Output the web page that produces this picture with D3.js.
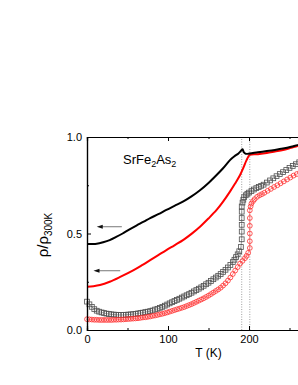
<!DOCTYPE html>
<html>
<head>
<meta charset="utf-8">
<script src="https://cdn.jsdelivr.net/npm/d3@7"></script>
<style>
  body { margin: 0; background: #fff; }
  svg { display: block; font-family: "Liberation Sans", Arial, sans-serif; }
</style>
</head>
<body>
<div id="chart"></div>
<script>
var width = 298, height = 385;

// open squares (black sample)
var sqT = [0,3,6,9,12,15,18,21,24,27,30,33,36,39,42,45,48,51,54,57,60,63,66,69,72,75,78,81,84,87,90,93,96,99,102,105,108,111,114,117,120,123,126,129,132,135,138,141,144,147,150,153,156,159,162,165,168,171,174,177,180,182,184,186,188,190,191,191,191,191,191,191,192,193,194,196,198,200,203,206,209,212,215,218,222,226,230,234,238,242,246,250,254,258,262,266];
var sqV = [0.147,0.133,0.120,0.108,0.100,0.095,0.091,0.088,0.085,0.083,0.081,0.080,0.079,0.078,0.078,0.078,0.079,0.080,0.081,0.082,0.084,0.086,0.088,0.090,0.093,0.095,0.098,0.101,0.106,0.110,0.115,0.120,0.126,0.132,0.138,0.144,0.150,0.156,0.162,0.168,0.174,0.180,0.186,0.193,0.200,0.207,0.214,0.221,0.229,0.237,0.245,0.254,0.263,0.272,0.281,0.290,0.301,0.312,0.324,0.337,0.352,0.364,0.378,0.392,0.408,0.430,0.470,0.510,0.545,0.580,0.613,0.640,0.660,0.675,0.688,0.698,0.706,0.712,0.720,0.728,0.735,0.741,0.747,0.753,0.764,0.775,0.786,0.797,0.808,0.818,0.829,0.840,0.850,0.859,0.869,0.878];

// open circles (red sample)
var ciT = [0,3,6,9,12,15,18,21,24,27,30,33,36,39,42,45,48,51,54,57,60,63,66,69,72,75,78,81,84,87,90,93,96,99,102,105,108,111,114,117,120,123,126,129,132,135,138,141,144,147,150,153,156,159,162,165,168,171,174,177,180,183,186,189,192,195,197,199,201,201,201,201,201,201,202,203,205,207,210,213,216,219,223,227,231,235,239,243,247,251,255,259,263,267];
var ciV = [0.056,0.055,0.054,0.053,0.053,0.052,0.052,0.052,0.052,0.052,0.052,0.053,0.053,0.054,0.054,0.055,0.056,0.057,0.058,0.059,0.060,0.061,0.063,0.065,0.066,0.068,0.070,0.073,0.075,0.078,0.081,0.084,0.087,0.091,0.095,0.099,0.103,0.107,0.111,0.115,0.119,0.124,0.129,0.134,0.140,0.146,0.152,0.158,0.164,0.171,0.178,0.186,0.194,0.202,0.210,0.219,0.230,0.242,0.256,0.272,0.290,0.308,0.326,0.344,0.358,0.372,0.384,0.400,0.425,0.460,0.500,0.540,0.580,0.620,0.640,0.655,0.668,0.678,0.690,0.698,0.704,0.711,0.721,0.731,0.741,0.750,0.760,0.770,0.780,0.790,0.800,0.808,0.816,0.824];

// resistivity curves
var blkT = [0,6,12,20,28,36,44,52,61,70,78,88,98,108,119,129,139.5,150,160,168,176.5,182,187,190,192,193.5,196,201,211,222,232,242,252,260,270];
var blkV = [0.446,0.446,0.447,0.455,0.466,0.482,0.500,0.520,0.541,0.561,0.580,0.600,0.622,0.643,0.666,0.692,0.724,0.762,0.803,0.838,0.880,0.900,0.915,0.928,0.937,0.922,0.913,0.915,0.921,0.927,0.933,0.940,0.949,0.958,0.966];
var redT = [0,8,16,28,41,57,68,78,88,98,108,119,129,139.5,150,160,168,176.5,183,189,193,197,201,211,222,232,242,252,260,270];
var redV = [0.224,0.227,0.233,0.250,0.275,0.309,0.336,0.362,0.388,0.414,0.439,0.467,0.498,0.535,0.578,0.622,0.665,0.717,0.760,0.803,0.840,0.880,0.907,0.911,0.917,0.925,0.933,0.944,0.953,0.963];

var transT = [191, 201];
var xMajor = [0, 100, 200, 300], xLabeled = [0, 100, 200], xMinor = [50, 150, 250];
var yMajor = [0, 0.5, 1.0], yMinor = [0.25, 0.75];

var x = d3.scaleLinear().domain([0, 300]).range([87, 330]);
var y = d3.scaleLinear().domain([0, 1]).range([330, 137]);

var svg = d3.select("#chart").append("svg")
    .attr("width", width)
    .attr("height", height);

function zip(a, b) { return a.map(function(d, i) { return [d, b[i]]; }); }

// dotted transition lines
svg.selectAll(".trans").data(transT).enter().append("line")
    .attr("x1", function(d) { return x(d); })
    .attr("x2", function(d) { return x(d); })
    .attr("y1", y(0)).attr("y2", y(1))
    .style("stroke", "#888")
    .style("stroke-width", 0.8)
    .style("stroke-dasharray", "1,1.5");

var thin = d3.line().x(function(d) { return x(d[0]); }).y(function(d) { return y(d[1]); });
var smooth = d3.line().curve(d3.curveCatmullRom).x(function(d) { return x(d[0]); }).y(function(d) { return y(d[1]); });

// symbol series
svg.append("path").datum(zip(sqT, sqV)).attr("d", thin)
    .style("fill", "none").style("stroke", "#666").style("stroke-width", 0.6);
svg.selectAll(".sq").data(zip(sqT, sqV)).enter().append("rect")
    .attr("x", function(d) { return x(d[0]) - 2.4; })
    .attr("y", function(d) { return y(d[1]) - 2.4; })
    .attr("width", 4.8).attr("height", 4.8)
    .style("fill", "none").style("stroke", "#505050").style("stroke-width", 0.8);

svg.append("path").datum(zip(ciT, ciV)).attr("d", thin)
    .style("fill", "none").style("stroke", "#ff4040").style("stroke-width", 0.6);
svg.selectAll(".ci").data(zip(ciT, ciV)).enter().append("circle")
    .attr("cx", function(d) { return x(d[0]); })
    .attr("cy", function(d) { return y(d[1]); })
    .attr("r", 2.4)
    .style("fill", "none").style("stroke", "#ff3030").style("stroke-width", 0.8);

// resistivity lines
svg.append("path").datum(zip(redT, redV)).attr("d", smooth)
    .style("fill", "none").style("stroke", "#ff0000").style("stroke-width", 2);
svg.append("path").datum(zip(blkT, blkV)).attr("d", smooth)
    .style("fill", "none").style("stroke", "#000").style("stroke-width", 2);

// axes
function axisLayer(axis, tr) {
  var g = svg.append("g").attr("transform", tr).call(axis);
  g.select(".domain").style("stroke-width", 1.2);
  g.selectAll(".tick line").style("stroke-width", 1);
  g.selectAll("text").style("font-size", "11px").style("font-family", "Liberation Sans, Arial, sans-serif");
  return g;
}
axisLayer(d3.axisBottom(x).tickValues(xMajor).tickSize(-4).tickFormat(""), "translate(0," + y(0) + ")");
axisLayer(d3.axisBottom(x).tickValues(xLabeled).tickSize(0).tickPadding(5).tickFormat(d3.format("d")), "translate(0," + y(0) + ")");
axisLayer(d3.axisBottom(x).tickValues(xMinor).tickSize(-2).tickFormat(""), "translate(0," + y(0) + ")");
axisLayer(d3.axisTop(x).tickValues(xMajor).tickSize(-4).tickFormat(""), "translate(0," + y(1) + ")");
axisLayer(d3.axisTop(x).tickValues(xMinor).tickSize(-2).tickFormat(""), "translate(0," + y(1) + ")");
axisLayer(d3.axisLeft(y).tickValues(yMajor).tickSize(-4).tickPadding(5).tickFormat(d3.format(".1f")), "translate(" + x(0) + ",0)");
axisLayer(d3.axisLeft(y).tickValues(yMinor).tickSize(-2).tickFormat(""), "translate(" + x(0) + ",0)");

// arrows
var arrows = [{t0: 12, t1: 43, v: 0.535}, {t0: 8, t1: 41, v: 0.307}];
arrows.forEach(function(a) {
  svg.append("line")
      .attr("x1", x(a.t0) + 4).attr("x2", x(a.t1))
      .attr("y1", y(a.v)).attr("y2", y(a.v))
      .style("stroke", "#777").style("stroke-width", 1);
  var px = x(a.t0), py = y(a.v);
  svg.append("path")
      .attr("d", "M" + px + "," + py + "L" + (px + 6) + "," + (py - 2) + "L" + (px + 6) + "," + (py + 2) + "Z")
      .style("fill", "#111");
});

// compound label
var lab = svg.append("text").attr("x", 123).attr("y", 164).style("font-size", "13px");
lab.append("tspan").text("SrFe");
lab.append("tspan").text("2").attr("dy", 3).style("font-size", "9px");
lab.append("tspan").text("As").attr("dy", -3);
lab.append("tspan").text("2").attr("dy", 3).style("font-size", "9px");

// axis titles
svg.append("text")
    .attr("x", (x(0) + x(300)) / 2).attr("y", 357)
    .attr("text-anchor", "middle")
    .style("font-size", "12px")
    .text("T (K)");

var yl = svg.append("text")
    .attr("transform", "translate(48,235) rotate(-90)")
    .attr("text-anchor", "middle")
    .style("font-size", "15px");
yl.append("tspan").text("\u03c1/\u03c1");
yl.append("tspan").text("300K").attr("dy", 4).style("font-size", "10px");
</script>
</body>
</html>
